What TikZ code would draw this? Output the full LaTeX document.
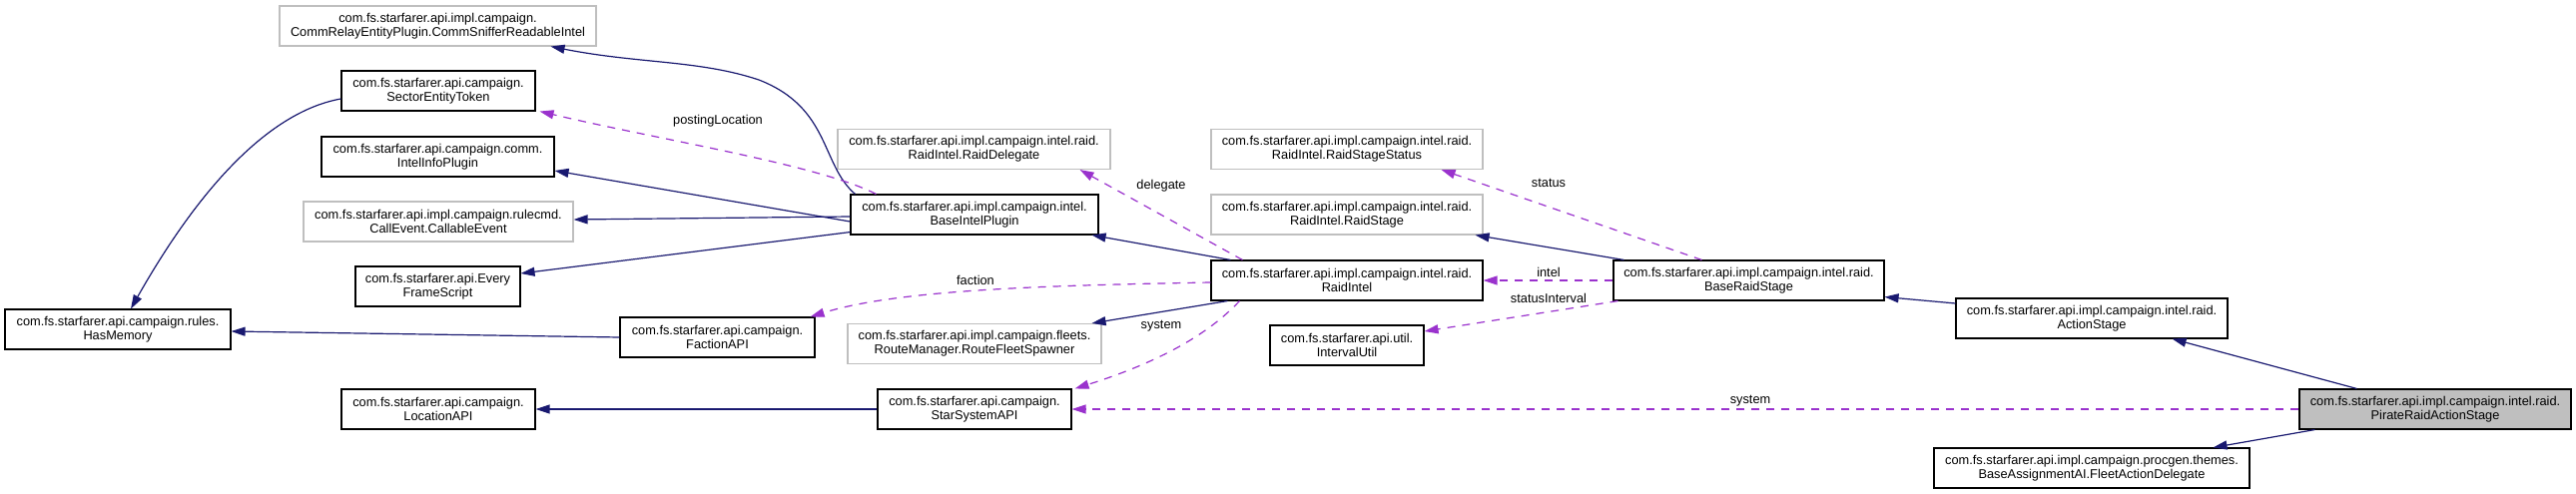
\documentclass[tikz,border=0pt]{standalone}
\usepackage{fontspec}
\setmainfont{Liberation Sans}
\usepackage{tikz}
\usetikzlibrary{arrows.meta,positioning}

\definecolor{inhcol}{HTML}{191970}
\definecolor{usecol}{HTML}{9A32CD}
\definecolor{undoc}{HTML}{BFBFBF}

\begin{document}
\begin{tikzpicture}[
  x=1pt,y=-1pt,
  cls/.style={draw=black, line width=1.1pt, fill=white, align=center, minimum height=40pt, inner sep=2pt, font=\fontsize{12.8}{14}\selectfont},
  ext/.style={cls, draw=undoc},
  focus/.style={cls, fill=undoc},
  lbl/.style={inner sep=0pt, font=\fontsize{12.8}{14}\selectfont},
  inh/.style={-{Triangle[length=14pt,width=9pt]}, line width=1.2pt, draw=inhcol},
  use/.style={-{Triangle[length=14pt,width=9pt]}, line width=1.2pt, draw=usecol, dash pattern=on 8pt off 7pt}
]
\useasboundingbox[fill=white] (0,0) rectangle (2580,495);
% left columns
\node[ext, minimum width=317pt] (commsniffer) at (438.5,26) {com.fs.starfarer.api.impl.campaign.\\CommRelayEntityPlugin.CommSnifferReadableIntel};
\node[cls, minimum width=194pt] (sector) at (439,91) {com.fs.starfarer.api.campaign.\\SectorEntityToken};
\node[cls, minimum width=233pt] (intelinfo) at (438.5,157) {com.fs.starfarer.api.campaign.comm.\\IntelInfoPlugin};
\node[ext, minimum width=270pt] (callable) at (439,222) {com.fs.starfarer.api.impl.campaign.rulecmd.\\CallEvent.CallableEvent};
\node[cls, minimum width=165pt] (everyframe) at (438.5,287) {com.fs.starfarer.api.Every\\FrameScript};
\node[cls, minimum width=226pt] (hasmemory) at (118,330) {com.fs.starfarer.api.campaign.rules.\\HasMemory};
\node[cls, minimum width=195pt] (faction) at (718.5,338) {com.fs.starfarer.api.campaign.\\FactionAPI};
\node[cls, minimum width=194pt] (location) at (439,410) {com.fs.starfarer.api.campaign.\\LocationAPI};
% middle columns
\node[ext, minimum width=273pt] (raiddelegate) at (975.5,149.5) {com.fs.starfarer.api.impl.campaign.intel.raid.\\RaidIntel.RaidDelegate};
\node[cls, minimum width=248pt] (baseintel) at (976,215) {com.fs.starfarer.api.impl.campaign.intel.\\BaseIntelPlugin};
\node[ext, minimum width=254pt] (routefleet) at (976,344.5) {com.fs.starfarer.api.impl.campaign.fleets.\\RouteManager.RouteFleetSpawner};
\node[cls, minimum width=194pt] (starsystem) at (976,410) {com.fs.starfarer.api.campaign.\\StarSystemAPI};
\node[ext, minimum width=272pt] (stagestatus) at (1349,149.5) {com.fs.starfarer.api.impl.campaign.intel.raid.\\RaidIntel.RaidStageStatus};
\node[ext, minimum width=272pt] (raidstage) at (1349,215) {com.fs.starfarer.api.impl.campaign.intel.raid.\\RaidIntel.RaidStage};
\node[cls, minimum width=272pt] (raidintel) at (1349,281) {com.fs.starfarer.api.impl.campaign.intel.raid.\\RaidIntel};
\node[cls, minimum width=154pt] (intervalutil) at (1349,346) {com.fs.starfarer.api.util.\\IntervalUtil};
% right columns
\node[cls, minimum width=271pt] (baseraidstage) at (1751.5,281) {com.fs.starfarer.api.impl.campaign.intel.raid.\\BaseRaidStage};
\node[cls, minimum width=272pt] (actionstage) at (2095,319) {com.fs.starfarer.api.impl.campaign.intel.raid.\\ActionStage};
\node[focus, minimum width=272pt] (pirate) at (2439,410) {com.fs.starfarer.api.impl.campaign.intel.raid.\\PirateRaidActionStage};
\node[cls, minimum width=316pt] (fleetaction) at (2095,469) {com.fs.starfarer.api.impl.campaign.procgen.themes.\\BaseAssignmentAI.FleetActionDelegate};

% inheritance
\draw[inh] ([xshift=5pt]baseintel.north west) .. controls (822,165) and (832,108) .. (760,80) .. controls (700,60) and (640,64) .. ([xshift=-46pt]commsniffer.south east);
\draw[inh] ([yshift=-7pt]baseintel.west) -- ([yshift=-14pt]intelinfo.east);
\draw[inh] ([yshift=-2pt]baseintel.west) -- ([yshift=2pt]callable.east);
\draw[inh] ([yshift=3pt]baseintel.south west) -- ([yshift=13pt]everyframe.east);
\draw[inh] ([yshift=-8pt]sector.west) .. controls (280,110) and (210,170) .. ([xshift=13pt]hasmemory.north);
\draw[inh] (faction.west) -- ([yshift=-2pt]hasmemory.east);
\draw[inh] ([xshift=20pt]raidintel.north west) -- ([xshift=-7pt]baseintel.south east);
\draw[inh] ([xshift=17pt]raidintel.south west) -- ([xshift=-10pt]routefleet.north east);
\draw[inh] ([xshift=11pt]baseraidstage.north west) -- ([xshift=-8pt]raidstage.south east);
\draw[inh] ([yshift=15pt]actionstage.west) -- ([yshift=4pt]baseraidstage.south east);
\draw[inh] ([xshift=58pt]pirate.north west) -- ([xshift=-56pt]actionstage.south east);
\draw[inh] ([xshift=16pt]pirate.south west) -- ([xshift=-37pt]fleetaction.north east);
\draw[inh] (starsystem.west) -- (location.east);

% usage
\draw[use] ([xshift=26pt]baseintel.north west) .. controls (820,165) and (660,140) .. ([xshift=4pt]sector.south east);
\draw[use] ([xshift=32pt]raidintel.north west) -- ([xshift=-31pt]raiddelegate.south east);
\draw[use] ([yshift=-2pt]raidintel.west) .. controls (1050,286) and (900,290) .. ([xshift=-5pt]faction.north east);
\draw[use] ([xshift=29pt]raidintel.south west) .. controls (1215,330) and (1170,360) .. ([xshift=3pt]starsystem.north east);
\draw[use] ([xshift=89pt]baseraidstage.north west) -- ([xshift=-42pt]stagestatus.south east);
\draw[use] (baseraidstage.west) -- (raidintel.east);
\draw[use] ([xshift=5pt]baseraidstage.south west) -- ([yshift=14pt]intervalutil.east);
\draw[use] (pirate.west) -- (starsystem.east);

% edge labels
\node[lbl] (lblposting) at (719,121) {postingLocation};
\node[lbl] (lbldelegate) at (1163,186) {delegate};
\node[lbl] (lblfaction) at (977,281) {faction};
\node[lbl] (lblsystema) at (1163,327) {system};
\node[lbl] (lblstatus) at (1551,183) {status};
\node[lbl] (lblintel) at (1551,273) {intel};
\node[lbl] (lblinterval) at (1551,299) {statusInterval};
\node[lbl] (lblsystemb) at (1753,402) {system};
\end{tikzpicture}
\end{document}
